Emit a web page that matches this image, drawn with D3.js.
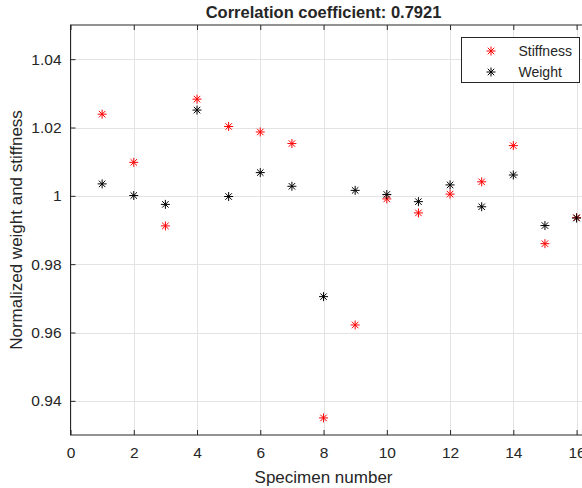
<!DOCTYPE html>
<html>
<head>
<meta charset="utf-8">
<script src="https://cdn.jsdelivr.net/npm/d3@7"></script>
<style>
  html, body { margin: 0; padding: 0; background: #fff; }
  svg { display: block; }
  text { font-family: "Liberation Sans", Arial, Helvetica, sans-serif; fill: #262626; }
</style>
</head>
<body>
<svg id="chart" width="582" height="488"></svg>
<script>
// ---- data ----
const specimens = [1, 2, 3, 4, 5, 6, 7, 8, 9, 10, 11, 12, 13, 14, 15, 16];
const stiffness = [1.0239, 1.0098, 0.9912, 1.0283, 1.0203, 1.0187, 1.0153, 0.9350, 0.9622, 0.9991, 0.9950, 1.0005, 1.0041, 1.0147, 0.9860, 0.9936];
const weight    = [1.0035, 1.0001, 0.9975, 1.0251, 0.9998, 1.0068, 1.0028, 0.9705, 1.0016, 1.0004, 0.9983, 1.0032, 0.9968, 1.0061, 0.9913, 0.9935];
const xTicks = [0, 2, 4, 6, 8, 10, 12, 14, 16];
const yTicks = [0.94, 0.96, 0.98, 1.00, 1.02, 1.04];
const yTickLabels = ["0.94", "0.96", "0.98", "1", "1.02", "1.04"];
const seriesNames = ["Stiffness", "Weight"];
const seriesColors = ["#ff0000", "#000000"];
const titleText = "Correlation coefficient: 0.7921";
const xLabel = "Specimen number";
const yLabel = "Normalized weight and stiffness";

// ---- layout ----
const svg = d3.select("#chart");
const mLeft = 70.5, mTop = 25, mBottom = 435;
const x = d3.scaleLinear().domain([0, 16]).range([mLeft, mLeft + 16 * 31.63]);
const xMax = 16.35;
const mRight = x(xMax);
const y = d3.scaleLinear().domain([0.93, 1.05]).range([mBottom, mTop]);
const axisColor = "#262626";
const gridColor = "#e3e3e3";
const tickLen = 5;

// grid
const g = svg.append("g");
g.selectAll(".vg").data(xTicks).enter().append("line")
  .attr("x1", d => Math.round(x(d)) + 0.5).attr("x2", d => Math.round(x(d)) + 0.5)
  .attr("y1", mTop).attr("y2", mBottom)
  .attr("stroke", gridColor).attr("stroke-width", 1);
g.selectAll(".hg").data(yTicks).enter().append("line")
  .attr("x1", mLeft).attr("x2", mRight)
  .attr("y1", d => Math.round(y(d)) + 0.5).attr("y2", d => Math.round(y(d)) + 0.5)
  .attr("stroke", gridColor).attr("stroke-width", 1);

// axes using d3 axis (ticks inward)
const xAxis = d3.axisBottom(x).tickValues(xTicks).tickSize(-tickLen).tickPadding(12).tickFormat(d3.format("d"));
const yAxis = d3.axisLeft(y).tickValues(yTicks).tickSize(-tickLen).tickPadding(9)
  .tickFormat((d, i) => yTickLabels[i]);
const xTop = d3.axisTop(x).tickValues(xTicks).tickSize(-tickLen).tickFormat("");

function styleAxis(sel) {
  sel.select(".domain").remove();
  sel.selectAll("line").attr("stroke", axisColor);
  sel.selectAll("text").attr("font-size", "15.5px").attr("fill", axisColor)
     .attr("font-family", "Liberation Sans, Arial, sans-serif");
}
svg.append("g").attr("transform", `translate(0,${mBottom})`).call(xAxis).call(styleAxis);
svg.append("g").attr("transform", `translate(${mLeft},0)`).call(yAxis).call(styleAxis);
svg.append("g").attr("transform", `translate(0,${mTop})`).call(xTop).call(styleAxis);

// box
svg.append("rect").attr("x", mLeft).attr("y", mTop)
  .attr("width", mRight - mLeft).attr("height", mBottom - mTop)
  .attr("fill", "none").attr("stroke", axisColor).attr("stroke-width", 1);

// asterisk marker
function asterisk(r) {
  const d = r * 0.72;
  return `M${-r},0L${r},0M0,${-r}L0,${r}M${-d},${-d}L${d},${d}M${-d},${d}L${d},${-d}`;
}
const series = [stiffness, weight];
series.forEach((vals, si) => {
  svg.append("g").selectAll("path").data(vals).enter().append("path")
    .attr("d", asterisk(4.5))
    .attr("transform", (d, i) => `translate(${x(specimens[i])},${y(d)})`)
    .attr("stroke", seriesColors[si]).attr("stroke-width", 1).attr("fill", "none");
});

// legend
const lg = svg.append("g");
const lgX = 461.5, lgY = 37.5, lgW = 118, lgH = 45;
lg.append("rect").attr("x", lgX).attr("y", lgY).attr("width", lgW).attr("height", lgH)
  .attr("fill", "#fff").attr("stroke", axisColor).attr("stroke-width", 1);
seriesNames.forEach((name, i) => {
  const cy = lgY + 13.5 + i * 21;
  lg.append("path").attr("d", asterisk(4.5))
    .attr("transform", `translate(${lgX + 29.5},${cy})`)
    .attr("stroke", seriesColors[i]).attr("stroke-width", 1).attr("fill", "none");
  lg.append("text").attr("x", lgX + 57).attr("y", cy).attr("dy", "0.35em")
    .attr("font-size", "14px").text(name);
});

// title & labels
const cx = (mLeft + x(16)) / 2;
svg.append("text").attr("x", cx).attr("y", 18).attr("text-anchor", "middle")
  .attr("font-size", "16.5px").attr("font-weight", "bold").attr("fill", "#000").text(titleText);
svg.append("text").attr("x", cx).attr("y", 483).attr("text-anchor", "middle")
  .attr("font-size", "17px").text(xLabel);
svg.append("text").attr("transform", `translate(22,${(mTop + mBottom) / 2}) rotate(-90)`)
  .attr("text-anchor", "middle").attr("font-size", "17px").text(yLabel);
</script>
</body>
</html>
